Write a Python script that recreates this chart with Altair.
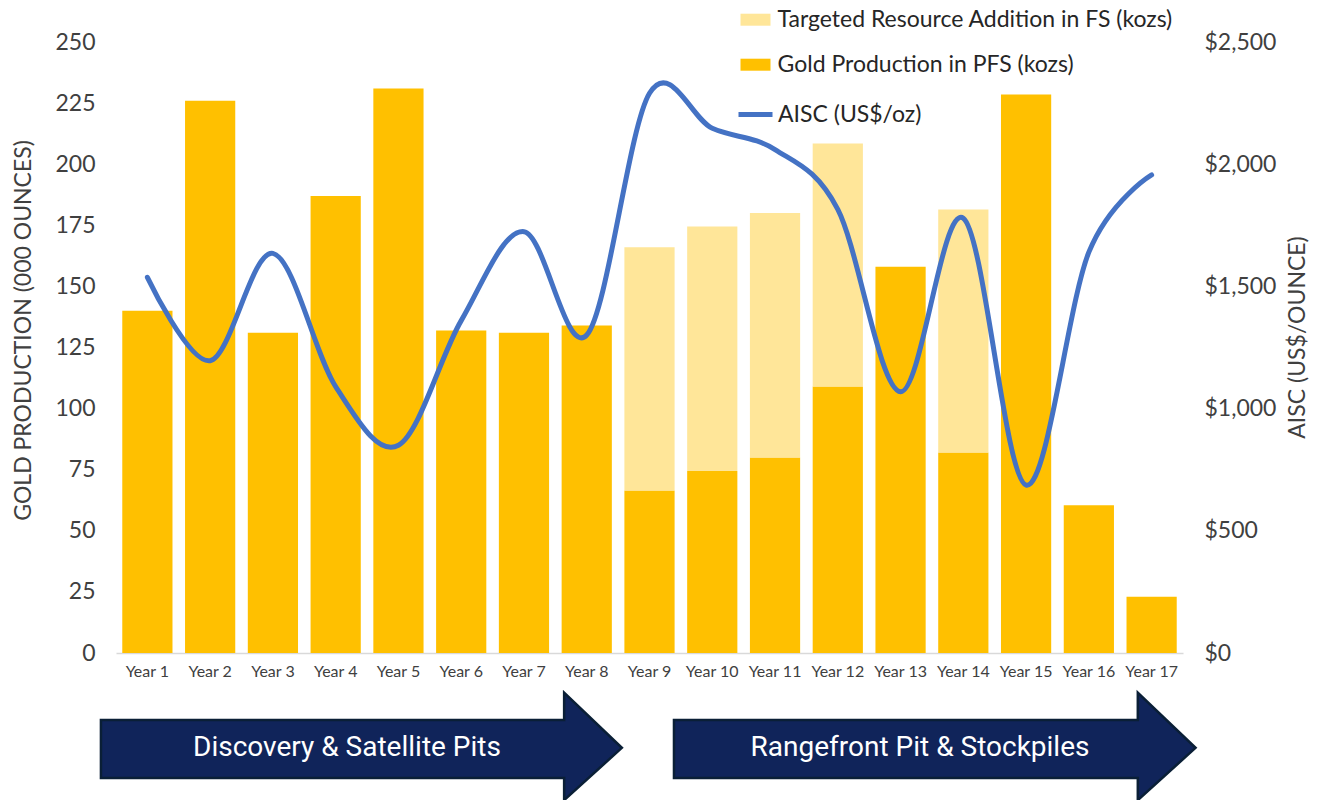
import altair as alt
import pandas as pd

# ---------------- data ----------------
years = ["Year 1", "Year 2", "Year 3", "Year 4", "Year 5", "Year 6", "Year 7", "Year 8", "Year 9",
         "Year 10", "Year 11", "Year 12", "Year 13", "Year 14", "Year 15", "Year 16", "Year 17"]
gold_production = [140, 226, 131, 187, 231, 132, 131, 134, 66.5, 74.5, 80, 109, 158, 82, 228.5, 60.5, 23]
targeted_addition = [0, 0, 0, 0, 0, 0, 0, 0, 99.5, 100, 100, 99.5, 0, 99.5, 0, 0, 0]
aisc = [1537, 1196, 1635, 1090, 850, 1360, 1724, 1301, 2290, 2147, 2060, 1815, 1069, 1779, 687, 1640, 1956]

left_ticks = [0, 25, 50, 75, 100, 125, 150, 175, 200, 225, 250]
right_ticks = [0, 500, 1000, 1500, 2000, 2500]

SERIES_TARGET = "Targeted Resource Addition in FS (kozs)"
SERIES_GOLD = "Gold Production in PFS (kozs)"
SERIES_AISC = "AISC (US$/oz)"

phase_labels = ["Discovery & Satellite Pits", "Rangefront Pit & Stockpiles"]

# ---------------- styling / layout ----------------
C_GOLD = "#FFC000"
C_TARGET = "#FFE699"
C_LINE = "#4472C4"
C_ARROW = "#10245A"
C_ARROW_EDGE = "#0A1F36"
TXT = "#404040"

# arrow geometry (x in year-index units, y in left-axis units)
arrow_start = [0.26, 9.39]
arrow_tip = [8.56, 17.70]
HEAD_LEN = 0.92
BODY_TOP, BODY_BOT = -27.4, -51.1
HEAD_TOP, HEAD_BOT = -16.2, -60.2
TIP = -38.8
label_x = [4.18, 13.31]

# ---------------- tables ----------------
bar_rows = []
for yr, g, t in zip(years, gold_production, targeted_addition):
    bar_rows.append({"year": yr, "series": SERIES_GOLD, "value": g, "stack_order": 0})
    bar_rows.append({"year": yr, "series": SERIES_TARGET, "value": t, "stack_order": 1})
bars_df = pd.DataFrame(bar_rows)

line_df = pd.DataFrame({"year": years, "aisc": aisc, "series": SERIES_AISC})

arrow_rows = []
for i, (x0, xt) in enumerate(zip(arrow_start, arrow_tip)):
    xb = xt - HEAD_LEN
    pts = [(x0, BODY_TOP, BODY_BOT), (xb - 1e-4, BODY_TOP, BODY_BOT), (xb, HEAD_TOP, HEAD_BOT), (xt, TIP, TIP)]
    for x, a, b in pts:
        arrow_rows.append({"arrow": f"a{i}", "x": x, "top": a, "bot": b})
arrow_df = pd.DataFrame(arrow_rows)

text_df = pd.DataFrame({"label": phase_labels, "x": label_x, "y": [TIP, TIP]})

# ---------------- charts ----------------
bars = alt.Chart(bars_df).mark_bar().encode(
    x=alt.X("year:N", sort=years,
            scale=alt.Scale(paddingInner=0.2, paddingOuter=0.1),
            axis=alt.Axis(title=None, labelAngle=0, ticks=False, domainColor="#D9D9D9", domainWidth=1.5,
                          labelFont="Lato", labelFontSize=16, labelColor=TXT, labelPadding=10)),
    y=alt.Y("value:Q", stack="zero", scale=alt.Scale(domain=[0, 250], nice=False),
            axis=alt.Axis(values=left_ticks, grid=False, ticks=False, domain=False,
                          labelFont="Lato", labelFontSize=23, labelColor=TXT, labelPadding=21,
                          title="GOLD PRODUCTION (000 OUNCES)", titleFont="Lato", titleFontSize=23,
                          titleFontWeight="normal", titleColor=TXT, titleAngle=270,
                          titleX=-93, titleY=288, titleAlign="center", titleBaseline="middle")),
    color=alt.Color("series:N", scale=alt.Scale(domain=[SERIES_TARGET, SERIES_GOLD], range=[C_TARGET, C_GOLD]),
                    legend=alt.Legend(title=None, orient="none", legendX=624.5, legendY=-37.3, direction="vertical",
                                      symbolType="M-1,-0.4H1V0.4H-1Z", symbolSize=900, symbolStrokeWidth=0,
                                      labelFont="Lato", labelFontSize=23, labelColor="#262626",
                                      labelOffset=7, rowPadding=18, labelLimit=0, padding=0)),
    order=alt.Order("stack_order:Q"),
)

line = alt.Chart(line_df).mark_line(interpolate="cardinal", strokeWidth=5, strokeCap="round").encode(
    x=alt.X("year:N", sort=years, axis=None),
    y=alt.Y("aisc:Q", scale=alt.Scale(domain=[0, 2500], nice=False),
            axis=alt.Axis(orient="right", values=right_ticks, format="$,.0f", grid=False, ticks=False,
                          domain=False, labelFont="Lato", labelFontSize=23, labelColor=TXT, labelPadding=21,
                          title="AISC (US$/OUNCE)", titleFont="Lato", titleFontSize=23,
                          titleFontWeight="normal", titleColor=TXT, titleAngle=270,
                          titleX=114, titleY=295, titleAlign="center", titleBaseline="middle")),
    stroke=alt.Stroke("series:N", scale=alt.Scale(domain=[SERIES_AISC], range=[C_LINE]),
                      legend=alt.Legend(title=None, orient="none", legendX=620, legendY=53, symbolType="stroke",
                                        symbolSize=1156, symbolStrokeWidth=5, labelFont="Lato",
                                        labelFontSize=23, labelColor="#262626", labelOffset=3,
                                        labelLimit=0, padding=0)),
)

arrows = alt.Chart(arrow_df).mark_area(orient="vertical", interpolate="linear", fill=C_ARROW,
                                       stroke=C_ARROW_EDGE, strokeWidth=2.5, strokeJoin="miter").encode(
    x=alt.X("x:Q", scale=alt.Scale(domain=[0.5, 17.5], nice=False, zero=False), axis=None),
    y=alt.Y("top:Q", scale=alt.Scale(domain=[0, 250], nice=False), axis=None),
    y2="bot:Q",
    detail="arrow:N",
)

texts = alt.Chart(text_df).mark_text(font="Roboto", fontSize=28, color="white", align="center",
                                     baseline="middle").encode(
    x=alt.X("x:Q", scale=alt.Scale(domain=[0.5, 17.5], nice=False, zero=False), axis=None),
    y=alt.Y("y:Q", scale=alt.Scale(domain=[0, 250], nice=False), axis=None),
    text="label:N",
)

chart = alt.layer(bars, line, arrows, texts).resolve_scale(
    x="independent", y="independent"
).properties(
    width=1067, height=611, autosize="none",
    padding={"left": 108, "top": 34, "right": 126, "bottom": 147},
).configure(background="white").configure_view(stroke=None)

chart.save("out.html", embed_options={"renderer": "svg", "actions": False})
